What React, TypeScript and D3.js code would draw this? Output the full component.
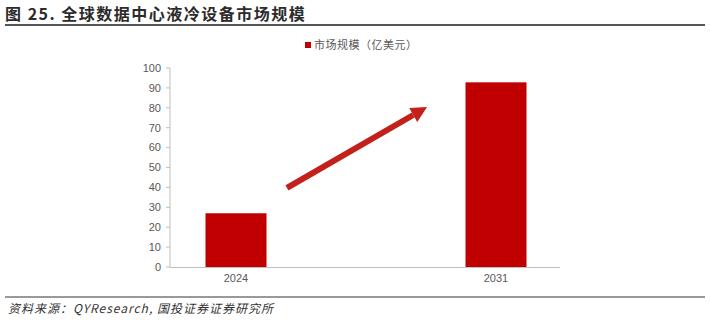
import React from "react";
import * as d3 from "d3";

const categories = ["2024", "2031"];
const values = [27.0, 92.8];
const yTicks = [0, 10, 20, 30, 40, 50, 60, 70, 80, 90, 100];
const titleText = "图 25. 全球数据中心液冷设备市场规模";
const legendText = "市场规模（亿美元）";
const sourceText = "资料来源：QYResearch, 国投证券证券研究所";
// arrow annotation in data terms: [fraction between category centres, value]
const arrowFrom = [0.196, 39.8];
const arrowTo = [0.735, 80.4];

const W = 710;
const H = 322;

export default function App() {
  const y = d3.scaleLinear().domain([0, 100]).range([267, 68]);
  const x = d3.scaleBand().domain(categories).range([106, 626]).padding(0);
  const barW = 61;
  const c0 = (x(categories[0]) as number) + x.bandwidth() / 2;
  const c1 = (x(categories[1]) as number) + x.bandwidth() / 2;
  const ax = d3.scaleLinear().domain([0, 1]).range([c0, c1]);

  const x1 = ax(arrowFrom[0]);
  const y1 = y(arrowFrom[1]);
  const x2 = ax(arrowTo[0]);
  const y2 = y(arrowTo[1]);
  const ang = Math.atan2(y2 - y1, x2 - x1);
  const headLen = 16;
  const headHalf = 8;
  const bx = x2 - headLen * Math.cos(ang);
  const by = y2 - headLen * Math.sin(ang);
  const px = -Math.sin(ang);
  const py = Math.cos(ang);
  const head = `M${x2},${y2} L${bx + px * headHalf},${by + py * headHalf} L${bx - px * headHalf},${by - py * headHalf} Z`;

  const axisColor = "#bfbfbf";
  const labelColor = "#595959";
  const font = "'Noto Sans CJK SC', 'Noto Sans', sans-serif";

  return (
    <svg width={W} height={H} style={{ position: "absolute", left: 0, top: 0, background: "#fff" }} fontFamily={font}>
      <text x={5} y={20} fontSize={16} fontWeight={600} fill="#2b2b2b" letterSpacing={1.5}>{titleText}</text>
      <line x1={5} x2={705} y1={25} y2={25} stroke="#555" strokeWidth={2} />

      {/* legend */}
      <rect x={305} y={42} width={6} height={6} fill="#c00000" />
      <text x={314} y={49} fontSize={11} fill={labelColor} letterSpacing={0.5}>{legendText}</text>

      {/* y axis */}
      <line x1={170} x2={170} y1={y(100)} y2={y(0)} stroke={axisColor} strokeWidth={1} />
      {yTicks.map((t) => (
        <g key={t}>
          <line x1={166} x2={170} y1={y(t)} y2={y(t)} stroke={axisColor} />
          <text x={161} y={y(t)} dy="0.35em" textAnchor="end" fontSize={11} fill={labelColor} fontFamily="'Liberation Sans', Arial, sans-serif">{t}</text>
        </g>
      ))}

      {/* bars */}
      {categories.map((c, i) => {
        const cx = (x(c) as number) + x.bandwidth() / 2;
        return (
          <rect key={c} x={cx - barW / 2} y={y(values[i])} width={barW} height={y(0) - y(values[i])} fill="#c00000" />
        );
      })}

      {/* x axis */}
      <line x1={170} x2={560} y1={y(0) + 0.5} y2={y(0) + 0.5} stroke={axisColor} />
      {categories.map((c) => (
        <text key={c} x={(x(c) as number) + x.bandwidth() / 2} y={282} textAnchor="middle" fontSize={11} fill={labelColor} fontFamily="'Liberation Sans', Arial, sans-serif">{c}</text>
      ))}

      {/* arrow */}
      <line x1={x1} y1={y1} x2={bx} y2={by} stroke="#c4201b" strokeWidth={6} />
      <path d={head} fill="#c4201b" />

      {/* footer */}
      <line x1={5} x2={705} y1={297} y2={297} stroke="#777" strokeWidth={1.5} />
      <text x={8} y={313} fontSize={12} fontStyle="italic" fill="#333" letterSpacing={1}>{sourceText}</text>
    </svg>
  );
}
